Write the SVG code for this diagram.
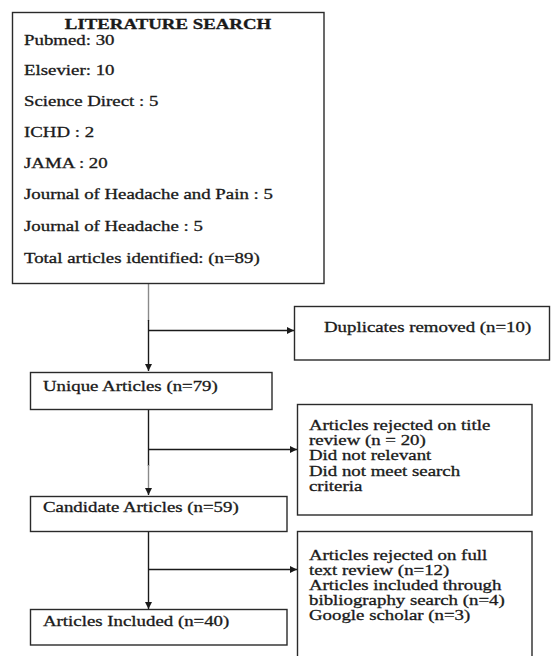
<svg xmlns="http://www.w3.org/2000/svg" width="551" height="656" viewBox="0 0 551 656">
<style>
.box{fill:#fff;stroke:#2a2a2a;stroke-width:1.4}
.t{font-family:"Liberation Serif","Times New Roman",serif;font-size:14.5px;fill:#1a1a1a;stroke:#1a1a1a;stroke-width:0.3}
.b{font-weight:bold}
.ln{stroke:#1a1a1a;stroke-width:1.4;fill:none}
.lg{stroke:#8a8a8a;stroke-width:1.4;fill:none}
</style>
<defs>
<marker id="ah" viewBox="0 0 10 10" refX="10" refY="5" markerWidth="7" markerHeight="7" markerUnits="userSpaceOnUse" orient="auto">
<path d="M0,0 L10,5 L0,10 z" fill="#1a1a1a"/>
</marker>
</defs>
<rect width="551" height="656" fill="#fff"/>
<g id="connectors">
<line class="lg" x1="148.5" y1="284" x2="148.5" y2="321"/>
<line class="ln" x1="148.5" y1="320" x2="148.5" y2="371" marker-end="url(#ah)"/>
<line class="ln" x1="148.5" y1="330.5" x2="294" y2="330.5" marker-end="url(#ah)"/>
<line class="ln" x1="148.5" y1="410" x2="148.5" y2="466"/>
<line class="lg" x1="148.5" y1="465" x2="148.5" y2="490"/>
<line class="ln" x1="148.5" y1="489" x2="148.5" y2="495" marker-end="url(#ah)"/>
<line class="ln" x1="148.5" y1="449.5" x2="297" y2="449.5" marker-end="url(#ah)"/>
<line class="ln" x1="148.5" y1="532" x2="148.5" y2="609" marker-end="url(#ah)"/>
<line class="ln" x1="148.5" y1="569.5" x2="297" y2="569.5" marker-end="url(#ah)"/>
</g>
<g id="literature-search">
<rect class="box" x="12.5" y="12.5" width="311.5" height="271"/>
<g transform="translate(168,0) scale(1.3,1)">
<text class="t b" x="0" y="29" text-anchor="middle">LITERATURE SEARCH</text>
</g>
<g transform="translate(24,0) scale(1.3,1)">
<text class="t" x="0" y="45">Pubmed: 30</text>
<text class="t" x="0" y="75">Elsevier: 10</text>
<text class="t" x="0" y="106">Science Direct : 5</text>
<text class="t" x="0" y="137">ICHD : 2</text>
<text class="t" x="0" y="168">JAMA : 20</text>
<text class="t" x="0" y="199">Journal of Headache and Pain : 5</text>
<text class="t" x="0" y="231">Journal of Headache : 5</text>
<text class="t" x="0" y="263">Total articles identified: (n=89)</text>
</g>
</g>
<g id="duplicates">
<rect class="box" x="294.5" y="306.5" width="255" height="53.5"/>
<g transform="translate(324,0) scale(1.3,1)">
<text class="t" x="0" y="332">Duplicates removed (n=10)</text>
</g>
</g>
<g id="unique">
<rect class="box" x="30.5" y="372.5" width="241.5" height="37"/>
<g transform="translate(43,0) scale(1.3,1)">
<text class="t" x="0" y="391">Unique Articles (n=79)</text>
</g>
</g>
<g id="title-rejected">
<rect class="box" x="297.5" y="404.5" width="234.5" height="110.5"/>
<g transform="translate(309,0) scale(1.3,1)">
<text class="t" x="0" y="430">Articles rejected on title</text>
<text class="t" x="0" y="445">review (n = 20)</text>
<text class="t" x="0" y="460.5">Did not relevant</text>
<text class="t" x="0" y="476">Did not meet search</text>
<text class="t" x="0" y="491.5">criteria</text>
</g>
</g>
<g id="candidate">
<rect class="box" x="30.5" y="496.5" width="256.5" height="35"/>
<g transform="translate(43,0) scale(1.3,1)">
<text class="t" x="0" y="512.5">Candidate Articles (n=59)</text>
</g>
</g>
<g id="fulltext">
<rect class="box" x="297.5" y="531.5" width="234.5" height="130"/>
<g transform="translate(309,0) scale(1.3,1)">
<text class="t" x="0" y="560.5">Articles rejected on full</text>
<text class="t" x="0" y="575.5">text review (n=12)</text>
<text class="t" x="0" y="590.5">Articles included through</text>
<text class="t" x="0" y="605.5">bibliography search (n=4)</text>
<text class="t" x="0" y="620.5">Google scholar (n=3)</text>
</g>
</g>
<g id="included">
<rect class="box" x="30.5" y="609.5" width="256.5" height="35.5"/>
<g transform="translate(43,0) scale(1.3,1)">
<text class="t" x="0" y="626.5">Articles Included (n=40)</text>
</g>
</g>
</svg>
